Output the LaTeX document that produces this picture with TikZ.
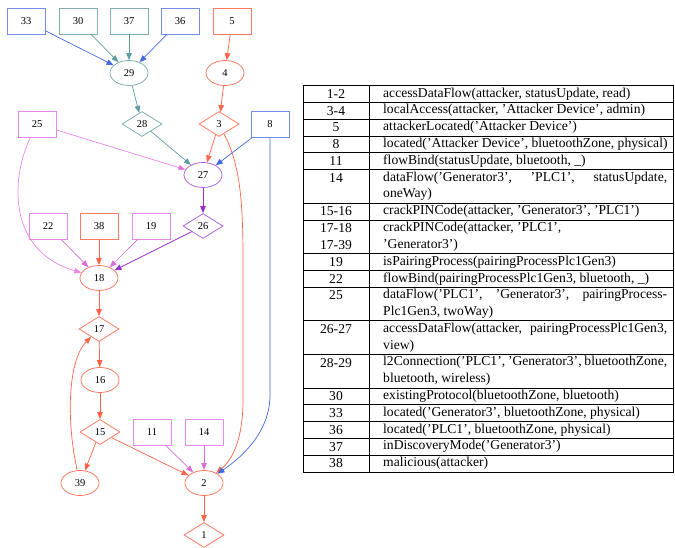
\documentclass[tikz,border=0pt]{standalone}
\usepackage{fontspec}
\setmainfont{Liberation Serif}
\usetikzlibrary{arrows.meta,shapes.geometric}
\definecolor{tom}{HTML}{FF6347}
\definecolor{cad}{HTML}{5F9EA0}
\definecolor{roy}{HTML}{4169E1}
\definecolor{orc}{HTML}{DA70D6}
\definecolor{vio}{HTML}{EE82EE}
\definecolor{lvio}{HTML}{E58AE8}
\definecolor{dorc}{HTML}{9932CC}
\definecolor{morc}{HTML}{B05CE0}
\tikzset{
  gnode/.style={font=\fontsize{10.5}{12}\selectfont, inner sep=0pt, line width=0.75pt},
  bx/.style={gnode, rectangle, minimum width=38pt, minimum height=26pt},
  el/.style={gnode, ellipse, minimum width=38pt, minimum height=25pt},
  dm/.style={gnode, diamond, aspect=1.6, minimum width=40pt, minimum height=25pt},
  ed/.style={line width=0.7pt, -{Triangle[length=7pt,width=5.5pt]}},
  tl/.style={font=\fontsize{13.6}{16}\selectfont, inner sep=0pt},
  tr/.style={tl, anchor=west},
}
\begin{document}
\begin{tikzpicture}[x=1pt,y=-1pt]
\useasboundingbox (0,0) rectangle (675,548);
% nodes
\node[bx, draw=roy!75] (n33) at (26,21) {33};
\node[bx, draw=cad!80] (n30) at (78,21) {30};
\node[bx, draw=cad!80] (n37) at (129,21) {37};
\node[bx, draw=roy!75] (n36) at (180,21) {36};
\node[bx, draw=tom!85] (n5) at (232,21) {5};
\node[el, draw=cad!85] (n29) at (129,73) {29};
\node[el, draw=tom!90] (n4) at (225,73) {4};
\node[bx, draw=lvio] (n25) at (37,124) {25};
\node[dm, draw=cad!85] (n28) at (142,124) {28};
\node[dm, draw=tom!90] (n3) at (219,124) {3};
\node[bx, draw=roy!75] (n8) at (270,124) {8};
\node[el, draw=morc] (n27) at (203,175) {27};
\node[bx, draw=lvio] (n22) at (48,226) {22};
\node[bx, draw=tom!85] (n38) at (99,226) {38};
\node[bx, draw=lvio] (n19) at (151,226) {19};
\node[dm, draw=morc] (n26) at (203,226) {26};
\node[el, draw=tom!90] (n18) at (99,278) {18};
\node[dm, draw=tom!90] (n17) at (99,329) {17};
\node[el, draw=tom!90] (n16) at (100,380) {16};
\node[dm, draw=tom!90] (n15) at (100,432) {15};
\node[bx, draw=lvio] (n11) at (152,432) {11};
\node[bx, draw=lvio] (n14) at (204,432) {14};
\node[el, draw=tom!90] (n39) at (80,483) {39};
\node[el, draw=tom!90] (n2) at (204,483) {2};
\node[dm, draw=tom!90] (n1) at (204,535) {1};
% edges
\draw[ed, roy] (n33) -- (n29);
\draw[ed, cad] (n30) -- (n29);
\draw[ed, cad] (n37) -- (n29);
\draw[ed, roy] (n36) -- (n29);
\draw[ed, tom] (n5) -- (n4);
\draw[ed, cad] (n29) -- (n28);
\draw[ed, tom] (n4) -- (n3);
\draw[ed, cad] (n28) -- (n27);
\draw[ed, tom] (n3) -- (n27);
\draw[ed, roy] (n8) -- (n27);
\draw[ed, vio, -{Triangle[length=7pt,width=5.5pt,fill=orc]}] (n25) -- (n27);
\draw[ed, dorc] (n27) -- (n26);
\draw[ed, vio] (n25) .. controls (12,175) and (5,250) .. (n18);
\draw[ed, orc] (n22) -- (n18);
\draw[ed, tom] (n38) -- (n18);
\draw[ed, orc] (n19) -- (n18);
\draw[ed, dorc] (n26) -- (n18);
\draw[ed, tom] (n18) -- (n17);
\draw[ed, tom] (n17) -- (n16);
\draw[ed, tom] (n16) -- (n15);
\draw[ed, tom] (n15) -- (n39);
\draw[ed, tom] (n15) -- (n2);
\draw[ed, tom] (n39) .. controls (66,420) and (68,360) .. (n17);
\draw[ed, orc] (n11) -- (n2);
\draw[ed, orc] (n14) -- (n2);
\draw[ed, tom] (n3) .. controls (240,165) and (243,200) .. (243,260) -- (243,400) .. controls (243,440) and (232,460) .. (n2);
\draw[ed, roy] (n8) -- (270,395) .. controls (270,430) and (245,455) .. (n2);
\draw[ed, tom] (n2) -- (n1);
% table
\draw[line width=0.8pt] (303,85.5) rectangle (673,472);
\draw[line width=0.8pt] (369,85.5) -- (369,472);
\foreach \i in {0,1,2,3,4,6,7,9,10,11,13,15,17,18,19,20,21} {
  \draw[line width=0.6pt] (303,{85.5+(\i+1)*16.8}) -- (673,{85.5+(\i+1)*16.8});
}
\foreach \i/\t in {0/1-2,1/3-4,2/5,3/8,4/11,5/14,7/15-16,8/17-18,9/17-39,10/19,11/22,12/25,14/26-27,16/28-29,18/30,19/33,20/36,21/37,22/38} {
  \node[tl] (L\i) at (336,{85.5+(\i+0.5)*16.8}) {\t};
}
\node[tr] (R0) at (383,{85.5+0.5*16.8}) {accessDataFlow(attacker, statusUpdate, read)};
\node[tr] (R1) at (383,{85.5+1.5*16.8}) {localAccess(attacker, 'Attacker Device', admin)};
\node[tr] (R2) at (383,{85.5+2.5*16.8}) {attackerLocated('Attacker Device')};
\node[tr] (R3) at (383,{85.5+3.5*16.8}) {located('Attacker Device', bluetoothZone, physical)};
\node[tr] (R4) at (383,{85.5+4.5*16.8}) {flowBind(statusUpdate, bluetooth, \_)};
\node[tr] (R5) at (383,{85.5+5.5*16.8}) {\makebox[284pt][s]{dataFlow('Generator3', 'PLC1', statusUpdate,}};
\node[tr] (R6) at (383,{85.5+6.5*16.8}) {oneWay)};
\node[tr] (R7) at (383,{85.5+7.5*16.8}) {crackPINCode(attacker, 'Generator3', 'PLC1')};
\node[tr] (R8) at (383,{85.5+8.5*16.8}) {crackPINCode(attacker, 'PLC1',};
\node[tr] (R9) at (383,{85.5+9.5*16.8}) {'Generator3')};
\node[tr] (R10) at (383,{85.5+10.5*16.8}) {isPairingProcess(pairingProcessPlc1Gen3)};
\node[tr] (R11) at (383,{85.5+11.5*16.8}) {flowBind(pairingProcessPlc1Gen3, bluetooth, \_)};
\node[tr] (R12) at (383,{85.5+12.5*16.8}) {\makebox[284pt][s]{dataFlow('PLC1', 'Generator3', pairingProcess-}};
\node[tr] (R13) at (383,{85.5+13.5*16.8}) {Plc1Gen3, twoWay)};
\node[tr] (R14) at (383,{85.5+14.5*16.8}) {\makebox[284pt][s]{accessDataFlow(attacker, pairingProcessPlc1Gen3,}};
\node[tr] (R15) at (383,{85.5+15.5*16.8}) {view)};
\node[tr] (R16) at (383,{85.5+16.5*16.8}) {\makebox[284pt][s]{l2Connection('PLC1', 'Generator3', bluetoothZone,}};
\node[tr] (R17) at (383,{85.5+17.5*16.8}) {bluetooth, wireless)};
\node[tr] (R18) at (383,{85.5+18.5*16.8}) {existingProtocol(bluetoothZone, bluetooth)};
\node[tr] (R19) at (383,{85.5+19.5*16.8}) {located('Generator3', bluetoothZone, physical)};
\node[tr] (R20) at (383,{85.5+20.5*16.8}) {located('PLC1', bluetoothZone, physical)};
\node[tr] (R21) at (383,{85.5+21.5*16.8}) {inDiscoveryMode('Generator3')};
\node[tr] (R22) at (383,{85.5+22.5*16.8}) {malicious(attacker)};
\end{tikzpicture}
\end{document}
